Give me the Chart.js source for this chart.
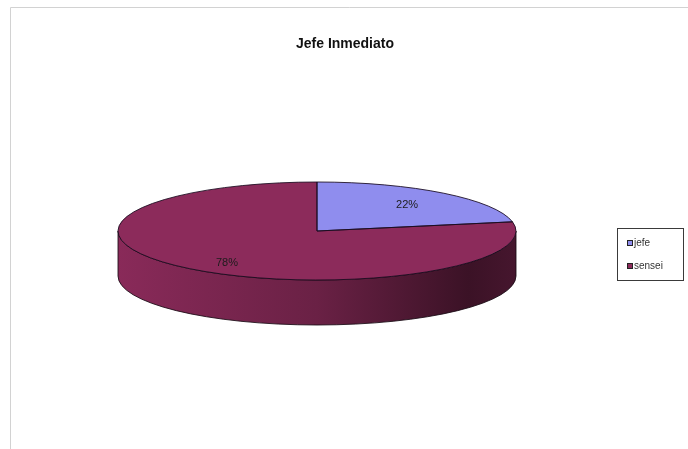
<!DOCTYPE html>
<html>
<head>
<meta charset="utf-8">
<script src="https://cdn.jsdelivr.net/npm/chart.js@4.4.1/dist/chart.umd.min.js"></script>
<style>
    body { margin: 0; background: #fff; }
    #divgrafico { width: 688px; height: 449px; }
</style>
</head>
<body>
<div id="divgrafico"><canvas id="canvasPastel" width="688" height="449"></canvas></div>
<script>
// datos del grafico
const categorias = ['jefe', 'sensei'];
const valores = [22, 78];
const colores = ['#8f8dee', '#8c2b5b'];
const titulo = 'Jefe Inmediato';

// elipse del pastel 3D (posicion en pantalla)
const PIE_CX = 317, PIE_CY = 231, PIE_RX = 199, PIE_RY = 49, PIE_ALTO = 45;

function oscurecer(hex, f) {
    let n = parseInt(hex.slice(1), 16);
    let r = Math.round(((n >> 16) & 255) * f);
    let g = Math.round(((n >> 8) & 255) * f);
    let b = Math.round((n & 255) * f);
    return `rgb(${r},${g},${b})`;
}

function rutaLado(ctx, a0, a1) {
    ctx.beginPath();
    ctx.ellipse(PIE_CX, PIE_CY, PIE_RX, PIE_RY, 0, a0, a1);
    ctx.lineTo(PIE_CX + PIE_RX * Math.cos(a1), PIE_CY + PIE_ALTO + PIE_RY * Math.sin(a1));
    ctx.ellipse(PIE_CX, PIE_CY + PIE_ALTO, PIE_RX, PIE_RY, 0, a1, a0, true);
    ctx.closePath();
}

const pastel3D = {
    id: 'pastel3D',
    beforeDraw(chart) {
        const ctx = chart.ctx;
        ctx.save();
        ctx.fillStyle = '#fff';
        ctx.fillRect(0, 0, chart.width, chart.height);
        // marco del area del grafico
        ctx.strokeStyle = '#d2d2d2';
        ctx.lineWidth = 1;
        ctx.beginPath();
        ctx.moveTo(10.5, chart.height);
        ctx.lineTo(10.5, 7.5);
        ctx.lineTo(chart.width, 7.5);
        ctx.stroke();
        ctx.restore();
    },
    beforeDatasetsDraw(chart) {
        const ctx = chart.ctx;
        const arcos = chart.getDatasetMeta(0).data;
        // lado del cilindro (solo la mitad frontal)
        arcos.forEach((arc, i) => {
            for (let k = -1; k <= 1; k++) {
                let a0 = Math.max(arc.startAngle, 2 * Math.PI * k);
                let a1 = Math.min(arc.endAngle, 2 * Math.PI * k + Math.PI);
                if (a1 <= a0) continue;
                a0 -= 2 * Math.PI * k; a1 -= 2 * Math.PI * k;
                let grad = ctx.createLinearGradient(PIE_CX - PIE_RX, 0, PIE_CX + PIE_RX, 0);
                grad.addColorStop(0, oscurecer(colores[i], 0.98));
                grad.addColorStop(0.5, oscurecer(colores[i], 0.76));
                grad.addColorStop(0.88, oscurecer(colores[i], 0.42));
                grad.addColorStop(1, oscurecer(colores[i], 0.5));
                ctx.save();
                rutaLado(ctx, a0, a1);
                ctx.fillStyle = grad;
                ctx.fill();
                ctx.strokeStyle = 'rgba(25,10,20,0.85)';
                ctx.lineWidth = 1;
                ctx.stroke();
                ctx.restore();
            }
        });
        // aplastar el circulo de Chart.js en la elipse superior
        const a = arcos[0];
        ctx.save();
        ctx.translate(PIE_CX, PIE_CY);
        ctx.scale(PIE_RX / a.outerRadius, PIE_RY / a.outerRadius);
        ctx.translate(-a.x, -a.y);
    },
    afterDatasetsDraw(chart) {
        const ctx = chart.ctx;
        ctx.restore();
        const arcos = chart.getDatasetMeta(0).data;
        const total = valores.reduce((s, v) => s + v, 0);
        arcos.forEach((arc, i) => {
            ctx.save();
            ctx.beginPath();
            ctx.moveTo(PIE_CX, PIE_CY);
            ctx.ellipse(PIE_CX, PIE_CY, PIE_RX, PIE_RY, 0, arc.startAngle, arc.endAngle);
            ctx.closePath();
            ctx.strokeStyle = 'rgba(25,10,30,0.85)';
            ctx.lineWidth = 1;
            ctx.stroke();
            ctx.restore();
        });
        // etiquetas de porcentaje
        arcos.forEach((arc, i) => {
            let mid = (arc.startAngle + arc.endAngle) / 2;
            let x = PIE_CX + PIE_RX * 0.71 * Math.cos(mid);
            let y = PIE_CY + PIE_RY * 0.7 * Math.sin(mid);
            if (Math.sin(mid) > 0.3) y += 6;
            ctx.save();
            ctx.font = '11px "Liberation Sans", Arial, sans-serif';
            ctx.fillStyle = '#1c1c1c';
            ctx.textAlign = 'center';
            ctx.textBaseline = 'middle';
            ctx.fillText(Math.round(valores[i] / total * 100) + '%', x, y);
            ctx.restore();
        });
    },
    afterDraw(chart) {
        // leyenda con recuadro
        const ctx = chart.ctx;
        ctx.save();
        ctx.strokeStyle = '#3a3a3a';
        ctx.lineWidth = 1;
        ctx.strokeRect(617.5, 228.5, 66, 52);
        ctx.font = '10px "Liberation Sans", Arial, sans-serif';
        ctx.textBaseline = 'middle';
        categorias.forEach((c, i) => {
            let y = 243 + i * 23;
            ctx.fillStyle = colores[i];
            ctx.fillRect(627, y - 3, 6, 6);
            ctx.strokeStyle = '#222';
            ctx.strokeRect(627.5, y - 2.5, 5, 5);
            ctx.fillStyle = '#333';
            ctx.fillText(c, 634, y);
        });
        ctx.restore();
    }
};

new Chart(document.getElementById('canvasPastel'), {
    type: 'pie',
    data: {
        labels: categorias,
        datasets: [{ data: valores, backgroundColor: colores, borderWidth: 0 }]
    },
    options: {
        responsive: false,
        animation: false,
        events: [],
        layout: { padding: { left: 2, right: 0, top: 0, bottom: 0 } },
        plugins: {
            legend: { display: false },
            tooltip: { enabled: false },
            title: {
                display: true,
                text: titulo,
                color: '#111',
                font: { family: '"Liberation Sans", Arial, sans-serif', size: 14, weight: 'bold' },
                padding: { top: 36, bottom: 10 }
            }
        }
    },
    plugins: [pastel3D]
});
</script>
</body>
</html>
